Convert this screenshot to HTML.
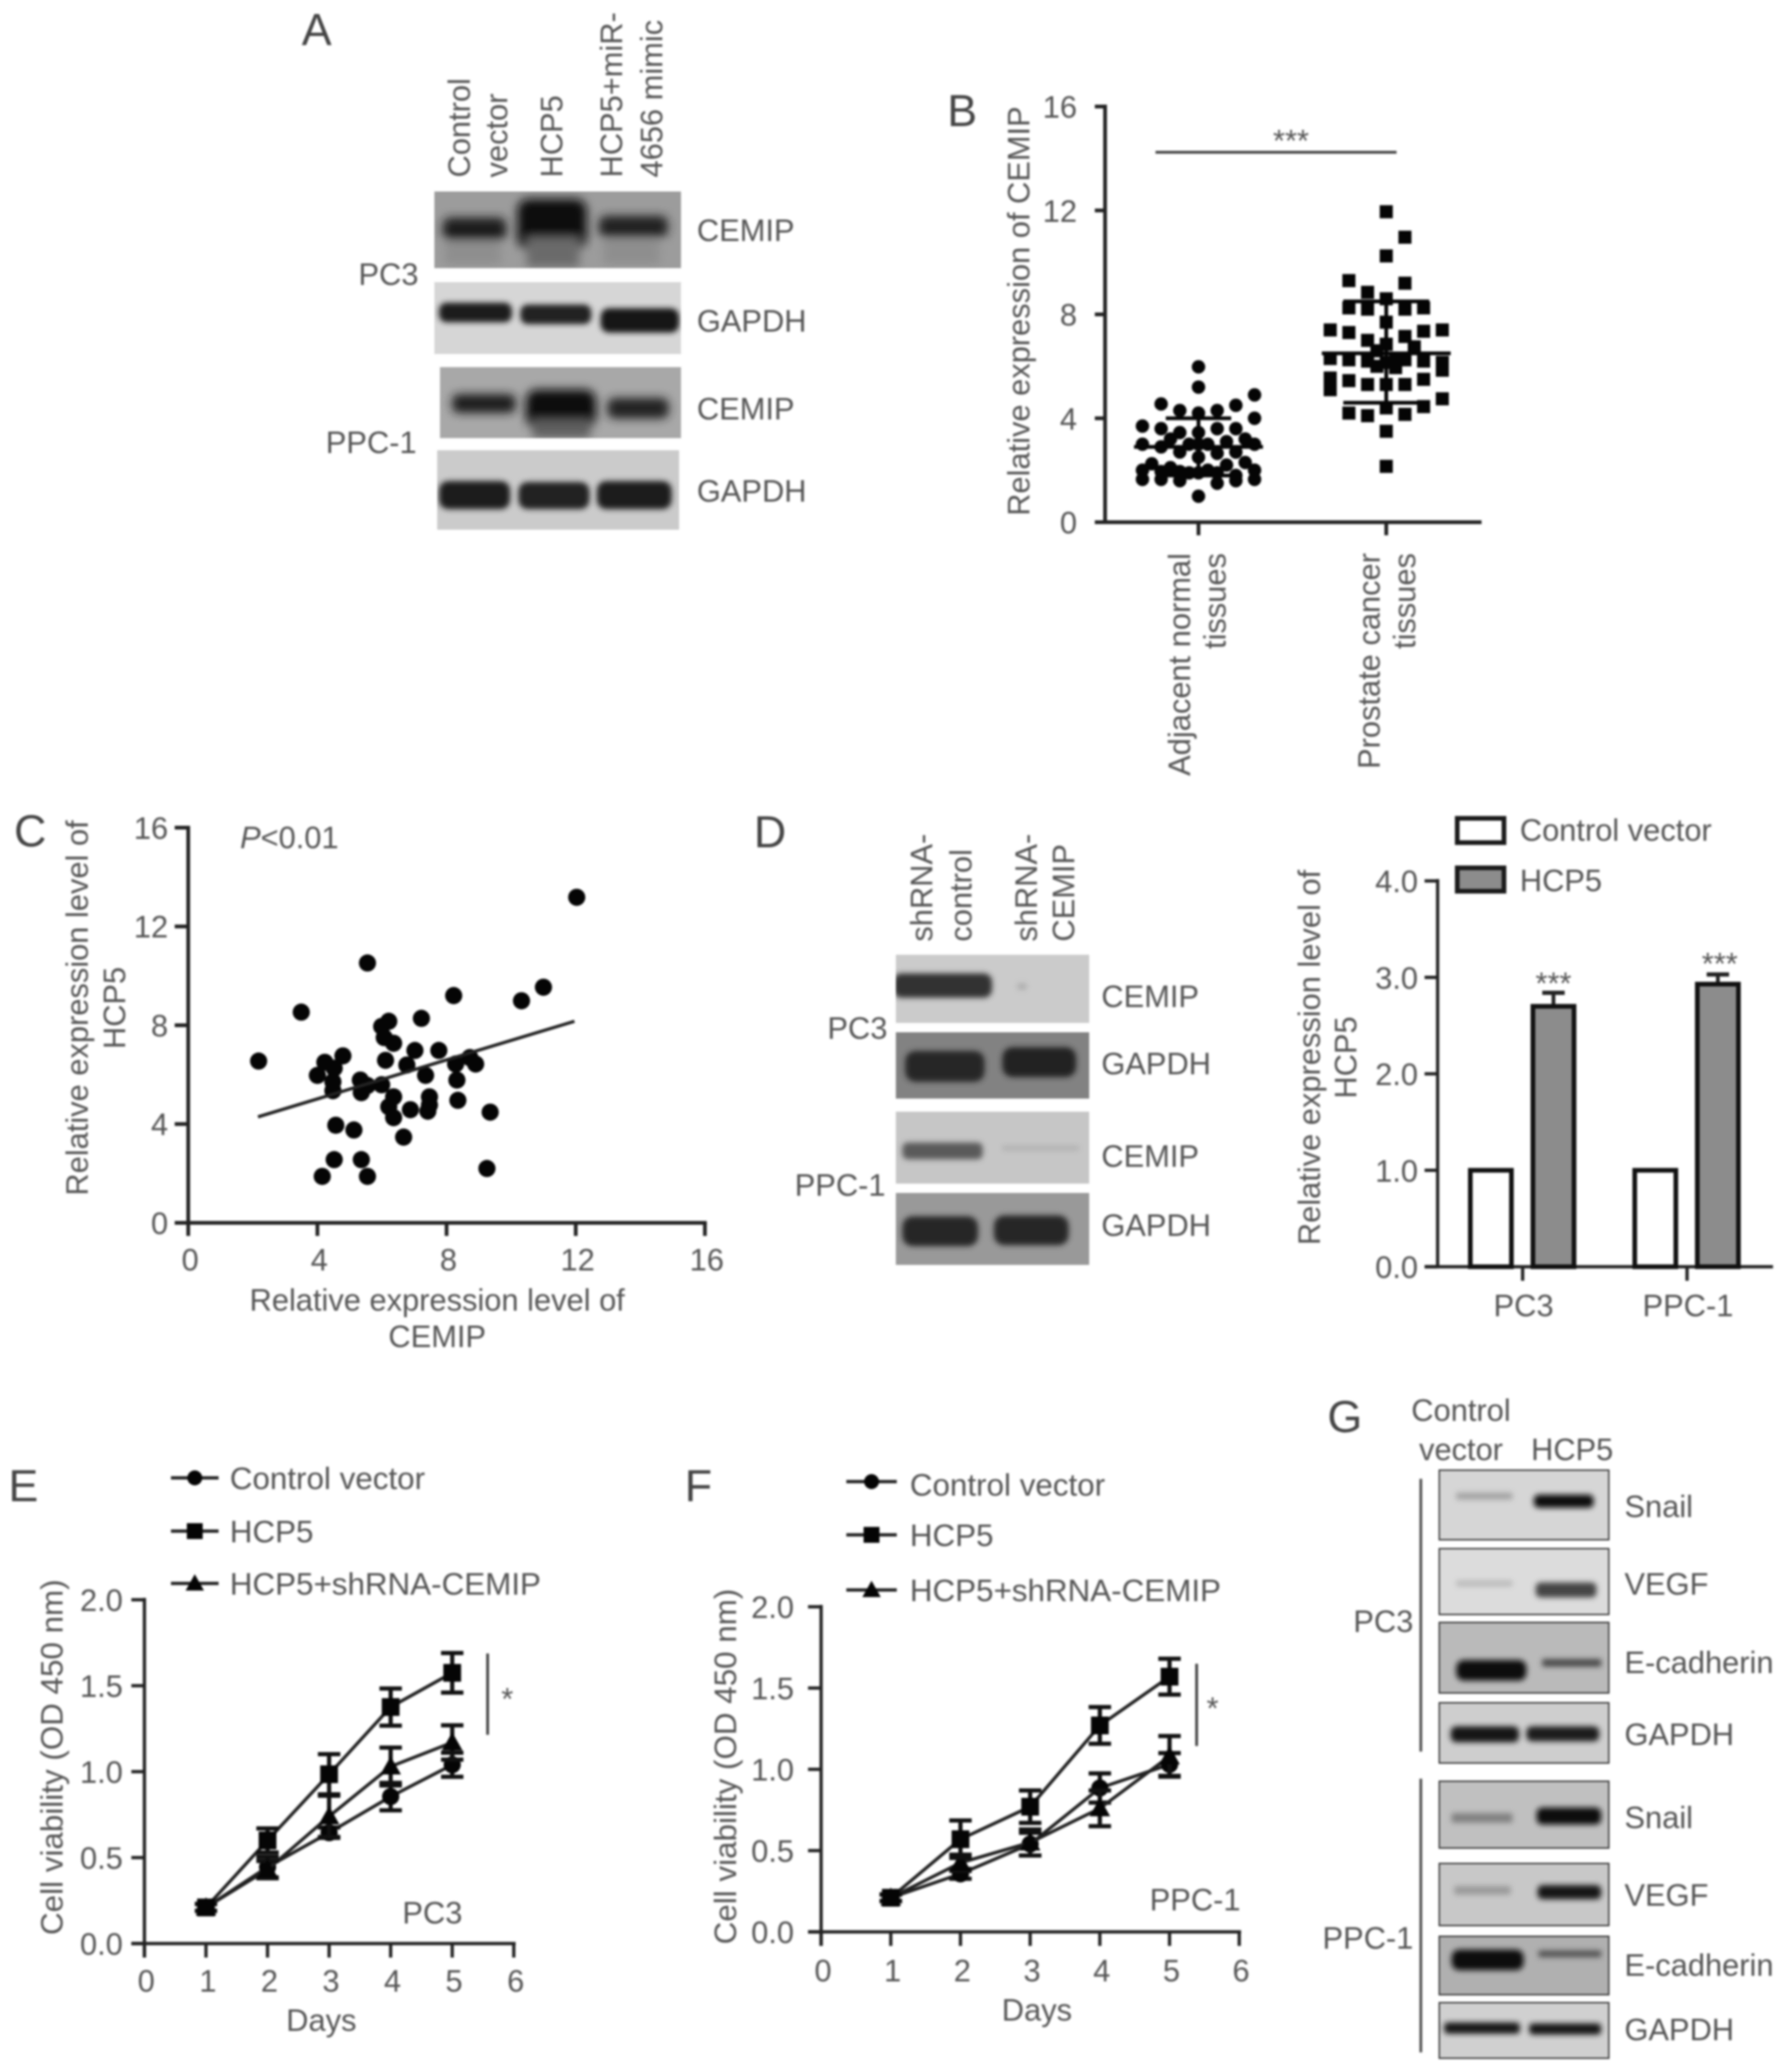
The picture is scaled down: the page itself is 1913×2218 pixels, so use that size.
<!DOCTYPE html>
<html lang="en">
<head>
<meta charset="utf-8">
<title>HCP5 and CEMIP figure</title>
<style>
html,body{margin:0;padding:0;background:#fff;}
svg#figure{display:block;filter:blur(1px);}
text{font-family:"Liberation Sans",sans-serif;}
.t{font-size:33px;fill:#555;}
.l{font-size:33.6px;fill:#555;}
.p{font-size:48px;fill:#444;}
</style>
</head>
<body>
<svg id="figure" xmlns="http://www.w3.org/2000/svg" width="1913" height="2218" viewBox="0 0 1913 2218">
<defs>
<filter id="b2" x="-30%" y="-120%" width="160%" height="340%"><feGaussianBlur stdDeviation="3"/></filter>
<filter id="b4" x="-30%" y="-120%" width="160%" height="340%"><feGaussianBlur stdDeviation="5"/></filter>
</defs>
<rect x="0" y="0" width="1913" height="2218" fill="#fff"/>

<!-- Panel letters -->
<text class="p" x="323" y="48">A</text>
<text class="p" x="1014" y="135">B</text>
<text class="p" x="15" y="906">C</text>
<text class="p" x="807" y="907">D</text>
<text class="p" x="9" y="1607">E</text>
<text class="p" x="733" y="1607">F</text>
<text class="p" x="1421" y="1533">G</text>

<!-- Panel A -->
<g>
<text class="t" transform="translate(503,190) rotate(-90)">Control</text>
<text class="t" transform="translate(543,190) rotate(-90)">vector</text>
<text class="t" transform="translate(602,190) rotate(-90)">HCP5</text>
<text class="t" transform="translate(666,190) rotate(-90)">HCP5+miR-</text>
<text class="t" transform="translate(709,190) rotate(-90)">4656 mimic</text>
<g transform="translate(-2,-1)">
<svg x="467" y="206" width="264" height="82" viewBox="467 206 264 82">
<rect x="467" y="206" width="264" height="82" fill="#9c9c9c"/>
<g filter="url(#b4)"><rect x="476" y="234" width="68" height="24" rx="8" fill="#1e1e1e"/><rect x="556" y="214" width="74" height="54" rx="12" fill="#0c0c0c"/><rect x="566" y="255" width="56" height="32" fill="#6a6a6a"/><rect x="643" y="232" width="74" height="23" rx="8" fill="#222"/><rect x="478" y="260" width="60" height="24" fill="#8e8e8e"/><rect x="648" y="258" width="60" height="26" fill="#8e8e8e"/></g>
</svg>
<svg x="467" y="303" width="264" height="77" viewBox="467 303 264 77">
<rect x="467" y="303" width="264" height="77" fill="#d6d6d6"/>
<g filter="url(#b2)"><rect x="472" y="325" width="78" height="21" rx="8" fill="#1c1c1c"/><rect x="559" y="327" width="76" height="21" rx="8" fill="#202020"/><rect x="645" y="331" width="84" height="26" rx="9" fill="#181818"/></g>
</svg>
<svg x="473" y="394" width="258" height="76" viewBox="473 394 258 76">
<rect x="473" y="394" width="258" height="76" fill="#a8a8a8"/>
<g filter="url(#b4)"><rect x="486" y="423" width="68" height="20" rx="7" fill="#1c1c1c"/><rect x="565" y="418" width="75" height="42" rx="12" fill="#0e0e0e"/><rect x="572" y="450" width="62" height="20" fill="#5e5e5e"/><rect x="652" y="427" width="66" height="22" rx="8" fill="#222"/></g>
</svg>
<svg x="470" y="483" width="259" height="85" viewBox="470 483 259 85">
<rect x="470" y="483" width="259" height="85" fill="#cbcbcb"/>
<g filter="url(#b2)"><rect x="472" y="516" width="76" height="30" rx="10" fill="#1c1c1c"/><rect x="557" y="517" width="76" height="29" rx="10" fill="#202020"/><rect x="641" y="516" width="80" height="30" rx="10" fill="#1c1c1c"/></g>
</svg>
</g>
<text class="t" x="746" y="258">CEMIP</text>
<text class="t" x="746" y="355">GAPDH</text>
<text class="t" x="746" y="449">CEMIP</text>
<text class="t" x="746" y="537">GAPDH</text>
<text class="t" x="448" y="305" text-anchor="end">PC3</text>
<text class="t" x="446" y="485" text-anchor="end">PPC-1</text>
</g>

<!-- Panel B static labels -->
<g>
<text class="t" transform="translate(1102,333) rotate(-90)" text-anchor="middle">Relative expression of CEMIP</text>
<text class="t" transform="translate(1274,592) rotate(-90)" text-anchor="end">Adjacent normal</text>
<text class="t" transform="translate(1312,592) rotate(-90)" text-anchor="end">tissues</text>
<text class="t" transform="translate(1477,592) rotate(-90)" text-anchor="end">Prostate cancer</text>
<text class="t" transform="translate(1515,592) rotate(-90)" text-anchor="end">tissues</text>
<line x1="1237" y1="163" x2="1495" y2="163" stroke="#444" stroke-width="3"/>
<text class="t" x="1382" y="162" text-anchor="middle">***</text>
</g>
<g id="chartB"></g>

<!-- Panel C static labels -->
<g>
<text class="t" transform="translate(94,1079) rotate(-90)" text-anchor="middle">Relative expression level of</text>
<text class="t" transform="translate(134,1079) rotate(-90)" text-anchor="middle">HCP5</text>
<text class="t" x="468" y="1403" text-anchor="middle">Relative expression level of</text>
<text class="t" x="468" y="1442" text-anchor="middle">CEMIP</text>
<text class="t" x="257" y="908"><tspan font-style="italic">P</tspan>&lt;0.01</text>
</g>
<g id="chartC"></g>

<!-- Panel D blots -->
<g>
<text class="t" transform="translate(998,1008) rotate(-90)">shRNA-</text>
<text class="t" transform="translate(1040,1008) rotate(-90)">control</text>
<text class="t" transform="translate(1110,1008) rotate(-90)">shRNA-</text>
<text class="t" transform="translate(1150,1008) rotate(-90)">CEMIP</text>
<g transform="translate(-2,-1)">
<svg x="961" y="1023" width="207" height="73" viewBox="961 1023 207 73">
<rect x="961" y="1023" width="207" height="73" fill="#cbcbcb"/>
<g filter="url(#b2)"><rect x="958" y="1043" width="106" height="26" rx="9" fill="#333"/><rect x="1091" y="1054" width="10" height="6" fill="#aaa"/></g>
</svg>
<svg x="961" y="1106" width="207" height="71" viewBox="961 1106 207 71">
<rect x="961" y="1106" width="207" height="71" fill="#828282"/>
<g filter="url(#b2)"><rect x="971" y="1126" width="85" height="33" rx="11" fill="#262626"/><rect x="1075" y="1122" width="79" height="32" rx="11" fill="#202020"/></g>
</svg>
<svg x="961" y="1191" width="207" height="77" viewBox="961 1191 207 77">
<rect x="961" y="1191" width="207" height="77" fill="#c6c6c6"/>
<g filter="url(#b2)"><rect x="968" y="1224" width="86" height="18" rx="6" fill="#5a5a5a"/><rect x="1075" y="1228" width="82" height="4" fill="#aaa"/></g>
</svg>
<svg x="961" y="1278" width="207" height="77" viewBox="961 1278 207 77">
<rect x="961" y="1278" width="207" height="77" fill="#999"/>
<g filter="url(#b2)"><rect x="968" y="1303" width="81" height="32" rx="11" fill="#262626"/><rect x="1066" y="1302" width="80" height="32" rx="11" fill="#262626"/></g>
</svg>
</g>
<text class="t" x="1179" y="1078">CEMIP</text>
<text class="t" x="1179" y="1150">GAPDH</text>
<text class="t" x="1179" y="1249">CEMIP</text>
<text class="t" x="1179" y="1323">GAPDH</text>
<text class="t" x="950" y="1112" text-anchor="end">PC3</text>
<text class="t" x="948" y="1280" text-anchor="end">PPC-1</text>
</g>

<!-- Panel D bar chart static labels -->
<g>
<text class="t" transform="translate(1413,1132) rotate(-90)" text-anchor="middle">Relative expression level of</text>
<text class="t" transform="translate(1452,1132) rotate(-90)" text-anchor="middle">HCP5</text>
<rect x="1560" y="876" width="50" height="26" fill="#fff" stroke="#1a1a1a" stroke-width="5"/>
<text class="t" x="1627" y="900">Control vector</text>
<rect x="1560" y="929" width="50" height="25" fill="#8c8c8c" stroke="#1a1a1a" stroke-width="5"/>
<text class="t" x="1627" y="954">HCP5</text>
<text class="t" x="1663" y="1064" text-anchor="middle">***</text>
<text class="t" x="1841" y="1043" text-anchor="middle">***</text>
</g>
<g id="chartD"></g>

<!-- Panel E static labels -->
<g>
<text class="l" transform="translate(67,1881) rotate(-90)" text-anchor="middle">Cell viability (OD 450 nm)</text>
<text class="t" x="344" y="2174" text-anchor="middle">Days</text>
<text class="l" x="246" y="1594">Control vector</text>
<text class="l" x="246" y="1651">HCP5</text>
<text class="l" x="246" y="1707">HCP5+shRNA-CEMIP</text>
<line x1="522" y1="1770" x2="522" y2="1857" stroke="#444" stroke-width="3"/>
<text class="t" x="543" y="1830" text-anchor="middle">*</text>
<text class="t" x="495" y="2059" text-anchor="end">PC3</text>
</g>
<g id="chartE"></g>

<!-- Panel F static labels -->
<g>
<text class="l" transform="translate(788,1891) rotate(-90)" text-anchor="middle">Cell viability (OD 450 nm)</text>
<text class="t" x="1110" y="2163" text-anchor="middle">Days</text>
<text class="l" x="974" y="1601">Control vector</text>
<text class="l" x="974" y="1655">HCP5</text>
<text class="l" x="974" y="1714">HCP5+shRNA-CEMIP</text>
<line x1="1281" y1="1781" x2="1281" y2="1869" stroke="#444" stroke-width="3"/>
<text class="t" x="1298" y="1840" text-anchor="middle">*</text>
<text class="t" x="1328" y="2045" text-anchor="end">PPC-1</text>
</g>
<g id="chartF"></g>

<!-- Panel G -->
<g>
<text class="t" x="1564" y="1521" text-anchor="middle">Control</text>
<text class="t" x="1564" y="1563" text-anchor="middle">vector</text>
<text class="t" x="1683" y="1563" text-anchor="middle">HCP5</text>
<text class="t" x="1513" y="1747" text-anchor="end">PC3</text>
<text class="t" x="1513" y="2086" text-anchor="end">PPC-1</text>
<g transform="translate(-1,-2)">
<line x1="1522" y1="1585" x2="1522" y2="1877" stroke="#555" stroke-width="3"/>
<line x1="1522" y1="1906" x2="1522" y2="2199" stroke="#555" stroke-width="3"/>
<svg x="1541" y="1575" width="183" height="76" viewBox="1541 1575 183 76">
<rect x="1541" y="1575" width="183" height="76" fill="#d6d6d6"/>
<g filter="url(#b2)"><rect x="1560" y="1600" width="60" height="7" fill="#a0a0a0"/><rect x="1643" y="1602" width="64" height="14" rx="5" fill="#111"/></g>
<rect x="1541" y="1575" width="183" height="76" fill="none" stroke="#333" stroke-width="3"/>
</svg>
<svg x="1541" y="1659" width="183" height="72" viewBox="1541 1659 183 72">
<rect x="1541" y="1659" width="183" height="72" fill="#dcdcdc"/>
<g filter="url(#b2)"><rect x="1560" y="1694" width="60" height="6" fill="#b8b8b8"/><rect x="1645" y="1696" width="65" height="16" rx="5" fill="#444"/></g>
<rect x="1541" y="1659" width="183" height="72" fill="none" stroke="#333" stroke-width="3"/>
</svg>
<svg x="1541" y="1738" width="183" height="77" viewBox="1541 1738 183 77">
<rect x="1541" y="1738" width="183" height="77" fill="#bababa"/>
<g filter="url(#b2)"><rect x="1560" y="1779" width="75" height="22" rx="8" fill="#111"/><rect x="1652" y="1778" width="63" height="8" fill="#444"/></g>
<rect x="1541" y="1738" width="183" height="77" fill="none" stroke="#333" stroke-width="3"/>
</svg>
<svg x="1541" y="1824" width="183" height="66" viewBox="1541 1824 183 66">
<rect x="1541" y="1824" width="183" height="66" fill="#cecece"/>
<g filter="url(#b2)"><rect x="1554" y="1850" width="73" height="17" rx="6" fill="#181818"/><rect x="1635" y="1850" width="78" height="16" rx="6" fill="#1c1c1c"/></g>
<rect x="1541" y="1824" width="183" height="66" fill="none" stroke="#333" stroke-width="3"/>
</svg>
<svg x="1541" y="1908" width="183" height="73" viewBox="1541 1908 183 73">
<rect x="1541" y="1908" width="183" height="73" fill="#c0c0c0"/>
<g filter="url(#b2)"><rect x="1555" y="1943" width="65" height="10" fill="#808080"/><rect x="1646" y="1937" width="69" height="18" rx="6" fill="#111"/></g>
<rect x="1541" y="1908" width="183" height="73" fill="none" stroke="#333" stroke-width="3"/>
</svg>
<svg x="1541" y="1996" width="183" height="68" viewBox="1541 1996 183 68">
<rect x="1541" y="1996" width="183" height="68" fill="#c8c8c8"/>
<g filter="url(#b2)"><rect x="1558" y="2021" width="60" height="9" fill="#989898"/><rect x="1647" y="2020" width="68" height="15" rx="5" fill="#181818"/></g>
<rect x="1541" y="1996" width="183" height="68" fill="none" stroke="#333" stroke-width="3"/>
</svg>
<svg x="1541" y="2074" width="183" height="64" viewBox="1541 2074 183 64">
<rect x="1541" y="2074" width="183" height="64" fill="#b0b0b0"/>
<g filter="url(#b2)"><rect x="1555" y="2089" width="77" height="22" rx="8" fill="#111"/><rect x="1648" y="2090" width="67" height="7" fill="#505050"/></g>
<rect x="1541" y="2074" width="183" height="64" fill="none" stroke="#333" stroke-width="3"/>
</svg>
<svg x="1541" y="2145" width="183" height="61" viewBox="1541 2145 183 61">
<rect x="1541" y="2145" width="183" height="61" fill="#d0d0d0"/>
<g filter="url(#b2)"><rect x="1547" y="2167" width="81" height="12" rx="4" fill="#181818"/><rect x="1638" y="2168" width="77" height="12" rx="4" fill="#181818"/></g>
<rect x="1541" y="2145" width="183" height="61" fill="none" stroke="#333" stroke-width="3"/>
</svg>
</g>
<text class="t" x="1739" y="1624">Snail</text>
<text class="t" x="1739" y="1707">VEGF</text>
<text class="t" x="1739" y="1791">E-cadherin</text>
<text class="t" x="1739" y="1868">GAPDH</text>
<text class="t" x="1739" y="1957">Snail</text>
<text class="t" x="1739" y="2040">VEGF</text>
<text class="t" x="1739" y="2115">E-cadherin</text>
<text class="t" x="1739" y="2184">GAPDH</text>
</g>
</svg>

<script>
// ---------- Panel B data ----------
const bYTicks = [0, 4, 8, 12, 16];
const bYTickLabels = ['0', '4', '8', '12', '16'];
const adjacentValues = [5.98,5.2,4.2,3.45,3.0,2.5,1.9,1.0, 3.7,3.0,2.0,1.65, 4.55,3.6,2.9,1.95,1.65, 4.3,3.45,2.7,1.95,1.6, 4.3,3.6,2.65,1.9,1.5, 4.5,3.6,2.7,1.8,1.6, 4.9,4.0,3.0,2.0,1.65, 3.2,2.1, 2.25, 3.1,2.2, 3.2,2.3, 3.0,2.0, 3.0,1.9];
const adjacentSlots = [0,0,0,0,0,0,0,0, -3,-3,-3,-3, -2,-2,-2,-2,-2, -1,-1,-1,-1,-1, 1,1,1,1,1, 2,2,2,2,2, 3,3,3,3,3, -1.5,-1.5, -2.5, 1.5,1.5, 2.5,2.5, 0.5,0.5, -0.5,-0.5];
const prostateValues = [11.95,10.25,8.6,7.7,6.85,6.15,5.3,4.4,3.5,2.15, 10.97,9.2,8.2,7.15,6.25,5.3,4.15, 9.3,8.25,7.3,6.25,5.45,4.2, 8.85,8.2,7.0,6.2,5.3,4.1, 7.4,6.3,5.55,5.1, 7.4,6.15,5.85,4.75, 8.25,7.35,6.2,5.5,4.45, 6.6,6.0, 6.25,5.95, 6.75];
const prostateSlots = [0,0,0,0,0,0,0,0,0,0, 1,1,1,1,1,1,1, -2,-2,-2,-2,-2,-2, -1,-1,-1,-1,-1,-1, -3,-3,-3,-3, 3,3,3,3, 2,2,2,2,2, -0.5,-0.5, 0.5,0.5, 1.5];
const bMeans = [2.9, 6.5];
const bUpper = [4.0, 8.5];
const bLower = [1.8, 4.6];

// ---------- Panel C data ----------
const cTicks = [0, 4, 8, 12, 16];
const cTickLabels = ['0', '4', '8', '12', '16'];
const cemipLevels = [12.03,5.55,11.0,10.32,8.22,3.5,7.22,6.21,5.99,6.07,6.36,7.02,7.76,4.79,2.18,4.23,6.11,4.52,6.77,8.28,8.72,8.9,4.0,7.35,5.33,5.55,8.32,5.99,4.48,4.48,5.36,6.36,7.47,8.35,6.21,7.47,7.42,6.88,6.36,9.35,4.57,5.13,6.67,4.52,5.36,9.25,4.15,5.55];
const hcp5Levels = [13.18,10.52,9.54,8.99,9.2,8.53,8.28,8.16,7.95,7.5,7.27,6.98,6.98,6.76,6.55,6.5,6.58,6.26,6.39,6.43,6.69,6.43,5.97,5.97,5.78,5.56,5.78,5.59,5.71,5.35,5.27,5.1,5.1,4.96,4.7,4.77,4.52,4.58,4.26,4.48,3.95,3.76,3.47,2.56,2.56,2.2,1.88,1.88];
const fitCemip = [2.16, 11.96];
const fitHcp5 = [4.29, 8.16];

// ---------- Panel D data ----------
const dCategories = ['PC3', 'PPC-1'];
const dControl = [1.0, 1.0];
const dHcp5 = [2.7, 2.93];
const dHcp5Err = [0.14, 0.10];
const dYTicks = [0, 1, 2, 3, 4];
const dYTickLabels = ['0.0', '1.0', '2.0', '3.0', '4.0'];

// ---------- Panels E and F data ----------
const days = [1, 2, 3, 4, 5];
const xTicksDays = [0, 1, 2, 3, 4, 5, 6];
const xTickLabelsDays = ['0', '1', '2', '3', '4', '5', '6'];
const viabilityTicks = [0, 0.5, 1, 1.5, 2];
const viabilityTickLabels = ['0.0', '0.5', '1.0', '1.5', '2.0'];

const eControl = [0.21, 0.445, 0.645, 0.855, 1.04];
const eControlErr = [0.02, 0.06, 0.03, 0.08, 0.07];
const eHcp5 = [0.21, 0.6, 0.985, 1.376, 1.575];
const eHcp5Err = [0.02, 0.07, 0.117, 0.108, 0.115];
const eMix = [0.21, 0.43, 0.74, 1.03, 1.17];
const eMixErr = [0.02, 0.05, 0.12, 0.11, 0.1];

const fControl = [0.21, 0.357, 0.54, 0.885, 1.03];
const fControlErr = [0.02, 0.03, 0.07, 0.09, 0.07];
const fHcp5 = [0.21, 0.57, 0.77, 1.27, 1.57];
const fHcp5Err = [0.02, 0.115, 0.1, 0.113, 0.11];
const fMix = [0.21, 0.425, 0.55, 0.76, 1.08];
const fMixErr = [0.02, 0.05, 0.08, 0.11, 0.125];

// ---------- Drawing helpers ----------
const NS = 'http://www.w3.org/2000/svg';
const DARK = '#222';

function add(parent, tag, attrs, name) {
  const el = document.createElementNS(NS, tag);
  for (const k in attrs) el.setAttribute(k, attrs[k]);
  
  
  parent.appendChild(el);
  return el;
}
function seg(parent, x1, y1, x2, y2, w, name, color) {
  return add(parent, 'line', {x1: x1, y1: y1, x2: x2, y2: y2, stroke: color || DARK, 'stroke-width': w}, name);
}
function label(parent, x, y, str, anchor, name) {
  const el = add(parent, 'text', {x: x, y: y, 'text-anchor': anchor, class: 't'}, name);
  el.textContent = str;
  return el;
}
function circle(parent, cx, cy, r, name) {
  return add(parent, 'circle', {cx: cx, cy: cy, r: r, fill: '#050505'}, name);
}
function square(parent, cx, cy, s, name) {
  return add(parent, 'rect', {x: cx - s / 2, y: cy - s / 2, width: s, height: s, fill: '#050505'}, name);
}
function triangle(parent, cx, cy, s, name) {
  const pts = [cx, cy - s * 0.58, cx + s * 0.58, cy + s * 0.45, cx - s * 0.58, cy + s * 0.45].join(',');
  return add(parent, 'polygon', {points: pts, fill: '#050505'}, name);
}

// ---------- Panel B ----------
(function () {
  const g = document.getElementById('chartB');
  const y = function (v) { return 559 - v * 27.81; };
  const groupCenters = [1283, 1484];
  const slotWidth = 20;
  seg(g, 1183, y(16) - 2, 1183, y(0) + 2, 4, 'y-axis-line');
  seg(g, 1172, y(0), 1586, y(0), 4, 'x-axis-line');
  bYTicks.forEach(function (t, i) {
    seg(g, 1172, y(t), 1183, y(t), 4, 'y-tick');
    label(g, 1153, y(t) + 12, bYTickLabels[i], 'end', 'y-tick-label');
  });
  groupCenters.forEach(function (c) {
    seg(g, c, y(0), c, y(0) + 14, 4, 'x-tick');
  });
  adjacentValues.forEach(function (v, i) {
    circle(g, groupCenters[0] + adjacentSlots[i] * slotWidth, y(v), 7.2, 'adjacent-normal-point');
  });
  prostateValues.forEach(function (v, i) {
    square(g, groupCenters[1] + prostateSlots[i] * slotWidth, y(v), 14, 'prostate-cancer-point');
  });
  bMeans.forEach(function (m, i) {
    const c = groupCenters[i];
    const capHalf = i === 0 ? 35 : 46;
    seg(g, c - 69, y(m), c + 69, y(m), 4, 'mean-line', '#050505');
    seg(g, c, y(bUpper[i]), c, y(bLower[i]), 4, 'error-bar', '#050505');
    seg(g, c - capHalf, y(bUpper[i]), c + capHalf, y(bUpper[i]), 4, 'error-cap-upper', '#050505');
    seg(g, c - capHalf, y(bLower[i]), c + capHalf, y(bLower[i]), 4, 'error-cap-lower', '#050505');
  });
})();

// ---------- Panel C ----------
(function () {
  const g = document.getElementById('chartC');
  const x = function (v) { return 201.5 + v * 34.57; };
  const y = function (v) { return 1309 - v * 26.44; };
  seg(g, x(0), y(16) - 2, x(0), y(0) + 14, 4, 'y-axis-line');
  seg(g, 187, y(0), x(16) + 2, y(0), 4, 'x-axis-line');
  cTicks.forEach(function (t, i) {
    seg(g, 187, y(t), x(0), y(t), 4, 'y-tick');
    seg(g, x(t), y(0), x(t), y(0) + 14, 4, 'x-tick');
    label(g, 180, y(t) + 12, cTickLabels[i], 'end', 'y-tick-label');
    label(g, x(t) + 2, 1360, cTickLabels[i], 'middle', 'x-tick-label');
  });
  cemipLevels.forEach(function (v, i) {
    circle(g, x(v), y(hcp5Levels[i]), 9.2, 'correlation-point');
  });
  seg(g, x(fitCemip[0]), y(fitHcp5[0]), x(fitCemip[1]), y(fitHcp5[1]), 3.5, 'regression-line');
})();

// ---------- Panel D bars ----------
(function () {
  const g = document.getElementById('chartD');
  const y = function (v) { return 1356 - v * 103.25; };
  const catCenters = [1630, 1806];
  const barWidth = 44;
  seg(g, 1539, y(4) - 2, 1539, y(0), 3.5, 'y-axis-line');
  seg(g, 1525, y(0), 1898, y(0), 3.5, 'x-axis-line');
  dYTicks.forEach(function (t, i) {
    seg(g, 1525, y(t), 1539, y(t), 3.5, 'y-tick');
    label(g, 1518, y(t) + 12, dYTickLabels[i], 'end', 'y-tick-label');
  });
  dCategories.forEach(function (cat, i) {
    const c = catCenters[i];
    seg(g, c, y(0), c, y(0) + 15, 3.5, 'x-tick');
    label(g, c + 1, 1409, cat, 'middle', 'x-tick-label');
    add(g, 'rect', {x: c - 34 - barWidth / 2, y: y(dControl[i]), width: barWidth, height: y(0) - y(dControl[i]), fill: '#fff', stroke: '#111', 'stroke-width': 5}, 'bar-control-vector');
    seg(g, c + 33, y(dHcp5[i]), c + 33, y(dHcp5[i] + dHcp5Err[i]), 4, 'bar-error-line');
    seg(g, c + 33 - 12, y(dHcp5[i] + dHcp5Err[i]), c + 33 + 12, y(dHcp5[i] + dHcp5Err[i]), 4.5, 'bar-error-cap');
    add(g, 'rect', {x: c + 33 - barWidth / 2, y: y(dHcp5[i]), width: barWidth, height: y(0) - y(dHcp5[i]), fill: '#8c8c8c', stroke: '#111', 'stroke-width': 5}, 'bar-hcp5');
  });
})();

// ---------- Panels E and F ----------
function drawViability(id, opt) {
  const g = document.getElementById(id);
  const x = function (v) { return opt.x0 + v * opt.xUnit; };
  const y = function (v) { return opt.y0 - v * opt.yUnit; };
  seg(g, x(0), y(2) - 2, x(0), y(0) + 15, 3.5, 'y-axis-line');
  seg(g, x(0) - 14, y(0), x(6) + 2, y(0), 3.5, 'x-axis-line');
  viabilityTicks.forEach(function (t, i) {
    seg(g, x(0) - 14, y(t), x(0), y(t), 3.5, 'y-tick');
    label(g, opt.yLabelX, y(t) + 12, viabilityTickLabels[i], 'end', 'y-tick-label');
  });
  xTicksDays.forEach(function (t, i) {
    seg(g, x(t), y(0), x(t), y(0) + 15, 3.5, 'x-tick');
    label(g, x(t) + 2, opt.xLabelY, xTickLabelsDays[i], 'middle', 'x-tick-label');
  });
  const series = [
    {vals: opt.control, err: opt.controlErr, mark: circle, size: 9.2, name: 'control-vector'},
    {vals: opt.mix, err: opt.mixErr, mark: triangle, size: 19, name: 'hcp5-shrna-cemip'},
    {vals: opt.hcp5, err: opt.hcp5Err, mark: square, size: 19, name: 'hcp5'}
  ];
  series.forEach(function (s) {
    const pts = days.map(function (d, i) { return x(d) + ',' + y(s.vals[i]); }).join(' ');
    add(g, 'polyline', {points: pts, fill: 'none', stroke: DARK, 'stroke-width': 3.5}, 'series-line-' + s.name);
    days.forEach(function (d, i) {
      const cx = x(d);
      const hi = y(s.vals[i] + s.err[i]);
      const lo = y(s.vals[i] - s.err[i]);
      seg(g, cx, hi, cx, lo, 4.5, 'error-bar-' + s.name, '#111');
      seg(g, cx - 12, hi, cx + 12, hi, 4.5, 'error-cap-' + s.name, '#111');
      seg(g, cx - 12, lo, cx + 12, lo, 4.5, 'error-cap-' + s.name, '#111');
      s.mark(g, cx, y(s.vals[i]), s.size, 'point-' + s.name);
    });
  });
  opt.legendY.forEach(function (ly, i) {
    seg(g, opt.legendX1, ly, opt.legendX2, ly, 3.5, 'legend-line');
    series[[0, 2, 1][i]].mark(g, (opt.legendX1 + opt.legendX2) / 2, ly, i === 0 ? 8 : 17, 'legend-marker');
  });
}
drawViability('chartE', {
  x0: 154.6, xUnit: 65.9, y0: 2080.5, yUnit: 184, yLabelX: 131.5, xLabelY: 2132,
  control: eControl, controlErr: eControlErr, hcp5: eHcp5, hcp5Err: eHcp5Err, mix: eMix, mixErr: eMixErr,
  legendX1: 183, legendX2: 234, legendY: [1582, 1639, 1695]
});
drawViability('chartF', {
  x0: 879, xUnit: 74.6, y0: 2068, yUnit: 174, yLabelX: 850, xLabelY: 2121,
  control: fControl, controlErr: fControlErr, hcp5: fHcp5, hcp5Err: fHcp5Err, mix: fMix, mixErr: fMixErr,
  legendX1: 906, legendX2: 960, legendY: [1586, 1643, 1702]
});
</script>
</body>
</html>
